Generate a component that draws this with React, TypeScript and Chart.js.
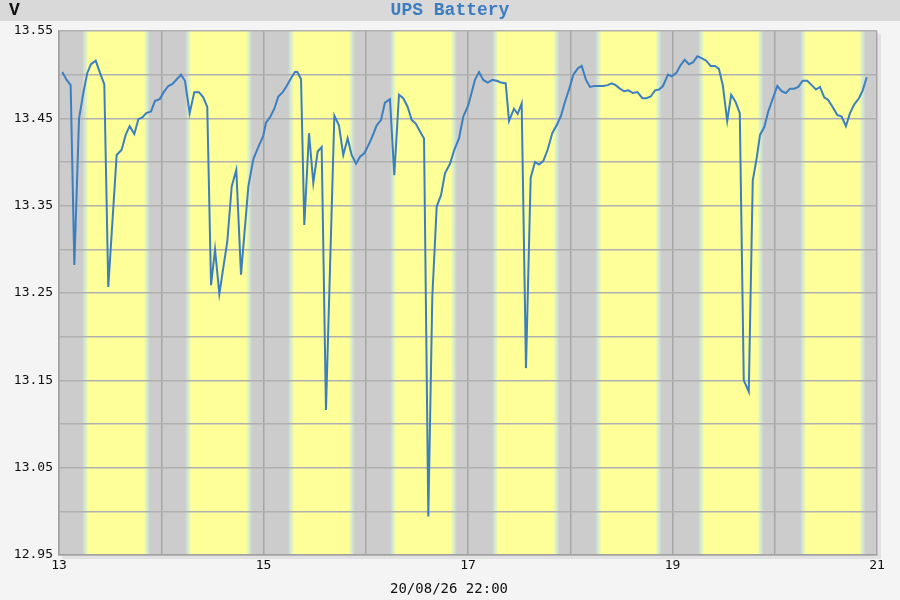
import React, { useRef, useEffect } from 'react';
import { Chart, registerables } from 'chart.js';
import type { Plugin } from 'chart.js';

Chart.register(...registerables);

// battery voltage samples, x = day of month (fractional)
const sampleDays = [
    13.032, 13.075, 13.114, 13.150, 13.196, 13.238, 13.277, 13.313, 13.359, 13.401,
    13.443, 13.482, 13.564, 13.613, 13.652, 13.691, 13.737, 13.776, 13.815, 13.854,
    13.900, 13.939, 13.985, 14.024, 14.069, 14.108, 14.154, 14.193, 14.232, 14.278,
    14.323, 14.369, 14.411, 14.450, 14.487, 14.526, 14.568, 14.646, 14.689, 14.734,
    14.780, 14.852, 14.900, 14.949, 14.998, 15.024, 15.063, 15.106, 15.145, 15.188,
    15.227, 15.269, 15.308, 15.331, 15.367, 15.399, 15.445, 15.487, 15.530, 15.569,
    15.611, 15.693, 15.738, 15.780, 15.823, 15.862, 15.905, 15.944, 15.986, 16.025,
    16.064, 16.107, 16.149, 16.188, 16.237, 16.279, 16.325, 16.367, 16.410, 16.450,
    16.489, 16.531, 16.570, 16.612, 16.651, 16.694, 16.736, 16.775, 16.824, 16.866,
    16.912, 16.954, 17.003, 17.068, 17.108, 17.150, 17.193, 17.238, 17.281, 17.323,
    17.369, 17.401, 17.450, 17.486, 17.525, 17.567, 17.613, 17.655, 17.694, 17.736,
    17.779, 17.824, 17.867, 17.910, 17.949, 17.991, 18.030, 18.073, 18.112, 18.154,
    18.193, 18.235, 18.281, 18.323, 18.366, 18.405, 18.444, 18.486, 18.526, 18.568,
    18.614, 18.657, 18.706, 18.745, 18.787, 18.829, 18.868, 18.907, 18.956, 18.992,
    19.038, 19.080, 19.119, 19.161, 19.200, 19.243, 19.284, 19.330, 19.372, 19.414,
    19.453, 19.492, 19.535, 19.574, 19.616, 19.658, 19.697, 19.746, 19.785, 19.823,
    19.856, 19.898, 19.937, 19.976, 20.025, 20.068, 20.110, 20.149, 20.191, 20.230,
    20.273, 20.318, 20.361, 20.403, 20.442, 20.484, 20.523, 20.566, 20.611, 20.654,
    20.696, 20.736, 20.778, 20.824, 20.860, 20.900,
];

const volts = [
    13.503, 13.494, 13.488, 13.282, 13.450, 13.479, 13.502, 13.512, 13.516, 13.502,
    13.489, 13.257, 13.408, 13.414, 13.431, 13.441, 13.432, 13.449, 13.451, 13.456,
    13.458, 13.470, 13.472, 13.480, 13.487, 13.489, 13.495, 13.500, 13.493, 13.456,
    13.480, 13.480, 13.474, 13.463, 13.259, 13.300, 13.249, 13.309, 13.372, 13.391,
    13.271, 13.372, 13.403, 13.417, 13.430, 13.445, 13.451, 13.461, 13.475, 13.480,
    13.487, 13.496, 13.503, 13.503, 13.495, 13.328, 13.433, 13.376, 13.412, 13.417,
    13.116, 13.453, 13.442, 13.408, 13.427, 13.408, 13.398, 13.406, 13.410, 13.419,
    13.429, 13.442, 13.448, 13.468, 13.472, 13.385, 13.477, 13.473, 13.463, 13.448,
    13.444, 13.435, 13.427, 12.994, 13.246, 13.349, 13.362, 13.387, 13.398, 13.414,
    13.427, 13.452, 13.465, 13.494, 13.503, 13.494, 13.491, 13.494, 13.493, 13.491,
    13.490, 13.447, 13.461, 13.455, 13.467, 13.164, 13.382, 13.400, 13.397, 13.401,
    13.414, 13.433, 13.442, 13.453, 13.469, 13.484, 13.500, 13.507, 13.510, 13.494,
    13.486, 13.487, 13.487, 13.487, 13.488, 13.490, 13.488, 13.484, 13.481, 13.482,
    13.479, 13.480, 13.473, 13.473, 13.475, 13.482, 13.483, 13.487, 13.500, 13.498,
    13.502, 13.511, 13.517, 13.512, 13.514, 13.521, 13.519, 13.516, 13.510, 13.510,
    13.507, 13.488, 13.447, 13.477, 13.469, 13.456, 13.150, 13.137, 13.379, 13.404,
    13.431, 13.440, 13.458, 13.471, 13.487, 13.481, 13.479, 13.484, 13.484, 13.486,
    13.493, 13.493, 13.488, 13.483, 13.486, 13.474, 13.471, 13.463, 13.454, 13.452,
    13.441, 13.456, 13.466, 13.473, 13.482, 13.497,
];

// daylight bands (hours of the day)
const bandDays = [13, 14, 15, 16, 17, 18, 19, 20];
const sunriseHours = [5.9, 6.05, 6.2, 6.15, 6.1, 6.3, 6.45, 6.4];
const sunsetHours = [20.95, 20.9, 21.0, 20.95, 21.05, 21.0, 20.95, 20.85];

const xTickLabels = [13, 15, 17, 19, 21];
const yTickLabels = ['12.95', '13.05', '13.15', '13.25', '13.35', '13.45', '13.55'];

const chartTitle = 'UPS Battery';
const unitLabel = 'V';
const footerLabel = '20/08/26 22:00';

const MONO = "'DejaVu Sans Mono', monospace";
const COURIER = "'Liberation Mono', 'Courier New', monospace";

const backdropPlugin: Plugin<'line'> = {
    id: 'backdrop',
    beforeDraw: (chart) => {
        const { ctx, chartArea, width, height } = chart;
        const xs = chart.scales.x;
        ctx.save();
        ctx.fillStyle = '#f4f4f4';
        ctx.fillRect(0, 0, width, height);
        ctx.fillStyle = '#d9d9d9';
        ctx.fillRect(0, 0, width, 21);

        const { left, top, right, bottom } = chartArea;
        // soft shadow
        ctx.fillStyle = '#e2e2e2';
        ctx.fillRect(left + 3, top + 3, right - left + 1, bottom - top + 1);
        // night
        ctx.fillStyle = '#cccccc';
        ctx.fillRect(left, top, right - left, bottom - top);

        // day
        bandDays.forEach((d, i) => {
            const x0 = xs.getPixelForValue(d + sunriseHours[i] / 24);
            const x1 = xs.getPixelForValue(d + sunsetHours[i] / 24);
            const w = x1 - x0;
            const e = 3 / w;
            const g = ctx.createLinearGradient(x0 - 2, 0, x1 + 2, 0);
            g.addColorStop(0, '#cccccc');
            g.addColorStop(e, '#d4ecd0');
            g.addColorStop(2 * e, '#ffff99');
            g.addColorStop(1 - 2 * e, '#ffff99');
            g.addColorStop(1 - e, '#d4ecd0');
            g.addColorStop(1, '#cccccc');
            ctx.fillStyle = g;
            ctx.fillRect(x0 - 2, top, w + 4, bottom - top);
        });
        ctx.restore();
    },
    afterDraw: (chart) => {
        const { ctx, width } = chart;
        ctx.save();
        ctx.textBaseline = 'middle';
        ctx.textAlign = 'center';
        ctx.fillStyle = '#3b7dbf';
        ctx.font = `bold 18px ${COURIER}`;
        ctx.fillText(chartTitle, width / 2, 10);

        ctx.textAlign = 'left';
        ctx.fillStyle = '#111';
        ctx.font = `bold 18px ${COURIER}`;
        ctx.fillText(unitLabel, 9, 10);

        ctx.textAlign = 'center';
        ctx.font = `14px ${MONO}`;
        ctx.fillText(footerLabel, 449, 589);
        ctx.restore();
    },
};

const App: React.FC = () => {
    const canvasRef = useRef<HTMLCanvasElement | null>(null);
    const chartRef = useRef<Chart | null>(null);

    useEffect(() => {
        if (!canvasRef.current) return;
        const ctx = canvasRef.current.getContext('2d');
        if (!ctx) return;

        if (chartRef.current) {
            chartRef.current.destroy();
        }

        const points = sampleDays.map((d, i) => ({ x: d, y: volts[i] }));

        chartRef.current = new Chart(ctx, {
            type: 'line',
            data: {
                datasets: [
                    {
                        label: 'Battery',
                        data: points,
                        borderColor: '#3b7fc0',
                        borderWidth: 2,
                        pointRadius: 0,
                        tension: 0,
                        fill: false,
                    },
                ],
            },
            options: {
                animation: false,
                responsive: true,
                maintainAspectRatio: false,
                layout: { padding: { top: 31, right: 23, bottom: 0, left: 0 } },
                plugins: {
                    legend: { display: false },
                    tooltip: { enabled: false },
                    title: { display: false },
                },
                scales: {
                    x: {
                        type: 'linear',
                        min: 13,
                        max: 21,
                        afterFit: (scale) => {
                            scale.height = 45;
                        },
                        ticks: {
                            stepSize: 1,
                            autoSkip: false,
                            maxRotation: 0,
                            padding: 3,
                            color: '#111',
                            font: { family: MONO, size: 13 },
                            callback: (v) => {
                                const n = Number(v);
                                return xTickLabels.includes(Math.round(n)) && Math.abs(n - Math.round(n)) < 1e-6
                                    ? String(Math.round(n))
                                    : '';
                            },
                        },
                        grid: { color: '#a6a6a6', lineWidth: 1.5, drawTicks: false },
                        border: { display: true, color: '#a0a0a0', width: 1.5 },
                    },
                    y: {
                        min: 12.95,
                        max: 13.55,
                        afterFit: (scale) => {
                            scale.width = 59;
                        },
                        ticks: {
                            stepSize: 0.05,
                            autoSkip: false,
                            padding: 6,
                            color: '#111',
                            font: { family: MONO, size: 13 },
                            callback: (v) => {
                                const s = Number(v).toFixed(2);
                                return yTickLabels.includes(s) ? s : '';
                            },
                        },
                        grid: { color: '#b0b0b0', lineWidth: 1.5, drawTicks: false },
                        border: { display: true, color: '#a0a0a0', width: 1.5 },
                    },
                },
            },
            plugins: [backdropPlugin],
        });

        return () => {
            if (chartRef.current) {
                chartRef.current.destroy();
                chartRef.current = null;
            }
        };
    }, []);

    return (
        <div style={{ position: 'fixed', left: 0, top: 0, width: 900, height: 600 }}>
            <canvas ref={canvasRef}></canvas>
        </div>
    );
};

export default App;
